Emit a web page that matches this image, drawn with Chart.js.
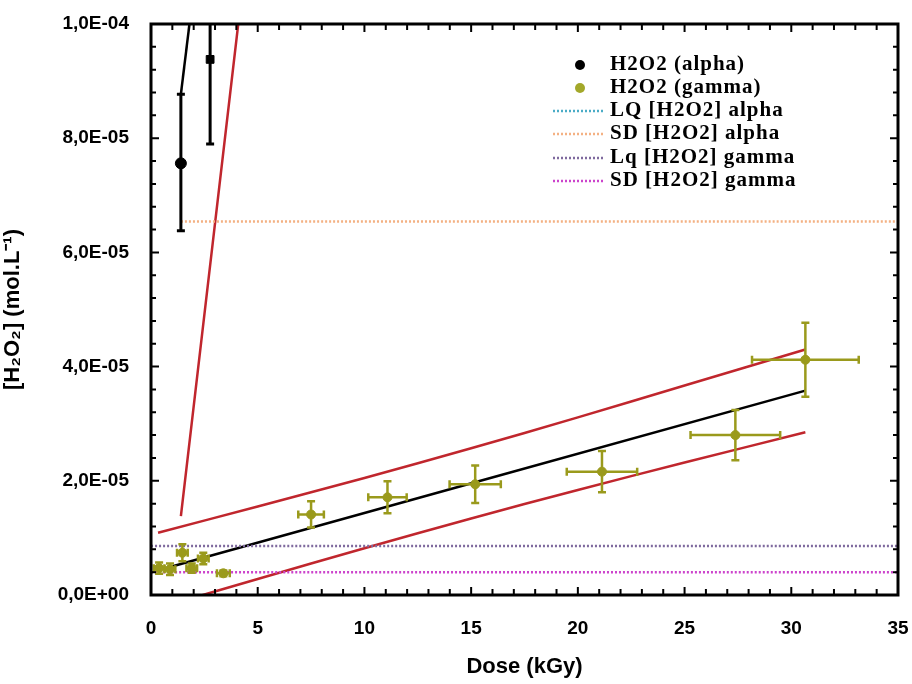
<!DOCTYPE html>
<html>
<head>
<meta charset="utf-8">
<script src="https://cdn.jsdelivr.net/npm/chart.js@4"></script>
<style>
  html, body { margin: 0; padding: 0; background: #fff; }
  #wrap { width: 912px; height: 684px; }
</style>
</head>
<body>
<div id="wrap"><canvas id="chart" width="912" height="684"></canvas></div>
<script>
// alpha irradiation
const alphaDose = [1.4, 2.77];
const alphaConc = [7.56e-5, 9.38e-5];
const alphaErrLow = [6.38e-5, 7.9e-5];
const alphaErrHigh = [8.77e-5, 1.09e-4];

// gamma irradiation
const gammaDose = [0.38, 0.89, 1.47, 1.91, 2.45, 3.39, 7.5, 11.08, 15.19, 21.13, 27.38, 30.66];
const gammaConc = [4.7e-6, 4.5e-6, 7.4e-6, 4.7e-6, 6.4e-6, 3.8e-6, 1.41e-5, 1.71e-5, 1.94e-5, 2.16e-5, 2.80e-5, 4.12e-5];
const gammaDoseErr = [0.25, 0.25, 0.25, 0.25, 0.25, 0.3, 0.6, 0.9, 1.2, 1.65, 2.1, 2.5];
const gammaConcErr = [1.0e-6, 1.0e-6, 1.5e-6, 0.8e-6, 1.0e-6, 0.5e-6, 2.3e-6, 2.8e-6, 3.3e-6, 3.6e-6, 4.4e-6, 6.5e-6];

// fits and bands
const alphaFitDose = [1.4, 1.9];
const alphaFitConc = [8.77e-5, 1.03e-4];
const alphaBandDose = [1.4, 4.4];
const alphaBandConc = [1.38e-5, 1.1e-4];
const gammaFitDose = [0.89, 30.66];
const gammaFitConc = [4.9e-6, 3.58e-5];
const bandDose = [0.33, 5, 10, 15, 20, 25, 30.66];
const bandUpper = [1.09e-5, 1.55e-5, 2.05e-5, 2.57e-5, 3.11e-5, 3.67e-5, 4.3e-5];
const bandLower = [-2.3e-6, 2.8e-6, 8.2e-6, 1.34e-5, 1.84e-5, 2.32e-5, 2.85e-5];

// limits (LQ alpha lies above the plotted range)
const sdAlphaDose = [1.4, 35];
const sdAlpha = 6.54e-5;
const lqGamma = 8.6e-6;
const sdGamma = 4.0e-6;
const limitDose = [0, 35];

const OLIVE = "#9a9a1c";
const RED = "#c0262d";

const pts = (xs, ys) => xs.map((x, i) => ({ x: x, y: Array.isArray(ys) ? ys[i] : ys }));

function sci(v) {
  if (Math.abs(v) < 1e-12) return "0,0E+00";
  const parts = v.toExponential(1).split("e");
  const n = parseInt(parts[1]);
  return parts[0].replace(".", ",") + "E" + (n < 0 ? "-" : "+") + String(Math.abs(n)).padStart(2, "0");
}

// error bars, inward ticks, frame and legend
const extras = {
  id: "extras",
  afterDatasetsDraw(chart) {
    const { ctx, chartArea: a, scales: { x, y } } = chart;
    ctx.save();
    ctx.beginPath();
    ctx.rect(a.left, a.top, a.right - a.left, a.bottom - a.top);
    ctx.clip();
    const cap = 4;
    // gamma
    ctx.strokeStyle = OLIVE;
    ctx.lineWidth = 2.5;
    gammaDose.forEach((d, i) => {
      const px = x.getPixelForValue(d), py = y.getPixelForValue(gammaConc[i]);
      const x0 = x.getPixelForValue(d - gammaDoseErr[i]), x1 = x.getPixelForValue(d + gammaDoseErr[i]);
      const y0 = y.getPixelForValue(gammaConc[i] - gammaConcErr[i]), y1 = y.getPixelForValue(gammaConc[i] + gammaConcErr[i]);
      ctx.beginPath();
      ctx.moveTo(x0, py); ctx.lineTo(x1, py);
      ctx.moveTo(x0, py - cap); ctx.lineTo(x0, py + cap);
      ctx.moveTo(x1, py - cap); ctx.lineTo(x1, py + cap);
      ctx.moveTo(px, y0); ctx.lineTo(px, y1);
      ctx.moveTo(px - cap, y0); ctx.lineTo(px + cap, y0);
      ctx.moveTo(px - cap, y1); ctx.lineTo(px + cap, y1);
      ctx.stroke();
    });
    // alpha
    ctx.strokeStyle = "#000";
    ctx.lineWidth = 3;
    alphaDose.forEach((d, i) => {
      const px = x.getPixelForValue(d);
      const y0 = y.getPixelForValue(alphaErrLow[i]), y1 = y.getPixelForValue(alphaErrHigh[i]);
      ctx.beginPath();
      ctx.moveTo(px, y0); ctx.lineTo(px, y1);
      ctx.moveTo(px - cap, y0); ctx.lineTo(px + cap, y0);
      ctx.moveTo(px - cap, y1); ctx.lineTo(px + cap, y1);
      ctx.stroke();
    });
    ctx.restore();

    // inward ticks
    ctx.save();
    ctx.strokeStyle = "#000";
    ctx.lineWidth = 2;
    ctx.beginPath();
    for (let i = 0; i <= 35; i++) {
      const px = x.getPixelForValue(i);
      const len = i % 5 === 0 ? 8 : 6;
      ctx.moveTo(px, a.bottom); ctx.lineTo(px, a.bottom - len);
      ctx.moveTo(px, a.top); ctx.lineTo(px, a.top + len);
    }
    for (let i = 0; i <= 25; i++) {
      const py = y.getPixelForValue(i * 4e-6);
      const len = i % 5 === 0 ? 8 : 5;
      ctx.moveTo(a.left, py); ctx.lineTo(a.left + len, py);
      ctx.moveTo(a.right, py); ctx.lineTo(a.right - len, py);
    }
    ctx.stroke();
    ctx.lineWidth = 3;
    ctx.strokeRect(a.left, a.top, a.right - a.left, a.bottom - a.top);
    ctx.restore();

    // legend
    ctx.save();
    ctx.font = "bold 21px 'Liberation Serif'";
    ctx.letterSpacing = "1px";
    ctx.textBaseline = "middle";
    ctx.fillStyle = "#000";
    const rowsY = [65, 88, 111, 134, 158, 181];
    chart.data.datasets.filter(ds => ds.inLegend).forEach((ds, i) => {
      const ry = rowsY[i];
      if (ds.type === "scatter") {
        ctx.beginPath();
        ctx.fillStyle = ds.legendColor;
        ctx.arc(580, ry, 5, 0, Math.PI * 2);
        ctx.fill();
      } else {
        ctx.beginPath();
        ctx.strokeStyle = ds.borderColor;
        ctx.lineWidth = 2.5;
        ctx.setLineDash([2, 2]);
        ctx.moveTo(553, ry); ctx.lineTo(603, ry);
        ctx.stroke();
        ctx.setLineDash([]);
      }
      ctx.fillStyle = "#000";
      ctx.fillText(ds.label, 610, ry);
    });
    ctx.restore();
  }
};

const lineDs = (label, data, color, width, dash, inLegend) => ({
  type: "line", label: label, data: data, borderColor: color, borderWidth: width,
  borderDash: dash, pointRadius: 0, fill: false, tension: 0.35, inLegend: inLegend
});

// invisible tick marks only used to push the labels away from the axis
const hiddenGrid = len => ({ display: true, drawOnChartArea: false, color: "rgba(0,0,0,0)", tickLength: len });

new Chart(document.getElementById("chart"), {
  data: {
    datasets: [
      { type: "scatter", label: "H2O2 (alpha)", data: pts(alphaDose, alphaConc), backgroundColor: "#000", borderColor: "#000",
        pointStyle: ["circle", "rect"], pointRadius: 5.5, inLegend: true, legendColor: "#000" },
      { type: "scatter", label: "H2O2 (gamma)", data: pts(gammaDose, gammaConc), backgroundColor: OLIVE, borderColor: OLIVE,
        pointRadius: 4.5, inLegend: true, legendColor: "#a3a82a" },
      lineDs("LQ [H2O2] alpha", [], "#4bacc6", 2.5, [2, 2], true),
      lineDs("SD [H2O2] alpha", pts(sdAlphaDose, sdAlpha), "#f4b183", 2.5, [2, 2], true),
      lineDs("Lq [H2O2] gamma", pts(limitDose, lqGamma), "#7f6a9e", 2.5, [2, 2], true),
      lineDs("SD [H2O2] gamma", pts(limitDose, sdGamma), "#cc44cc", 2.5, [2, 2], true),
      lineDs("fit alpha", pts(alphaFitDose, alphaFitConc), "#000", 2.5, [], false),
      lineDs("band alpha", pts(alphaBandDose, alphaBandConc), RED, 2.5, [], false),
      lineDs("fit gamma", pts(gammaFitDose, gammaFitConc), "#000", 2.5, [], false),
      lineDs("upper gamma", pts(bandDose, bandUpper), RED, 2.5, [], false),
      lineDs("lower gamma", pts(bandDose, bandLower), RED, 2.5, [], false)
    ]
  },
  options: {
    responsive: false,
    animation: false,
    layout: { padding: { left: 0, right: 14, top: 24, bottom: 0 } },
    plugins: { legend: { display: false }, tooltip: { enabled: false } },
    scales: {
      x: {
        type: "linear", min: 0, max: 35,
        grid: hiddenGrid(20), border: { display: false },
        ticks: { stepSize: 5, padding: 2, color: "#000", font: { family: "'Liberation Sans'", weight: "bold", size: 19 } },
        title: { display: true, text: "Dose (kGy)", color: "#000", padding: { top: 8 }, font: { family: "'Liberation Sans'", weight: "bold", size: 22 } },
        afterFit: s => { s.height = 89; }
      },
      y: {
        type: "linear", min: 0, max: 1e-4,
        grid: hiddenGrid(20), border: { display: false },
        ticks: { stepSize: 2e-5, padding: 2, color: "#000", callback: v => sci(v), font: { family: "'Liberation Sans'", weight: "bold", size: 19 } },
        title: { display: true, text: "[H₂O₂] (mol.L⁻¹)", color: "#000", padding: { top: 0, bottom: 0 }, font: { family: "'Liberation Sans'", weight: "bold", size: 22 } },
        afterFit: s => { s.width = 151; }
      }
    }
  },
  plugins: [extras]
});
</script>
</body>
</html>
